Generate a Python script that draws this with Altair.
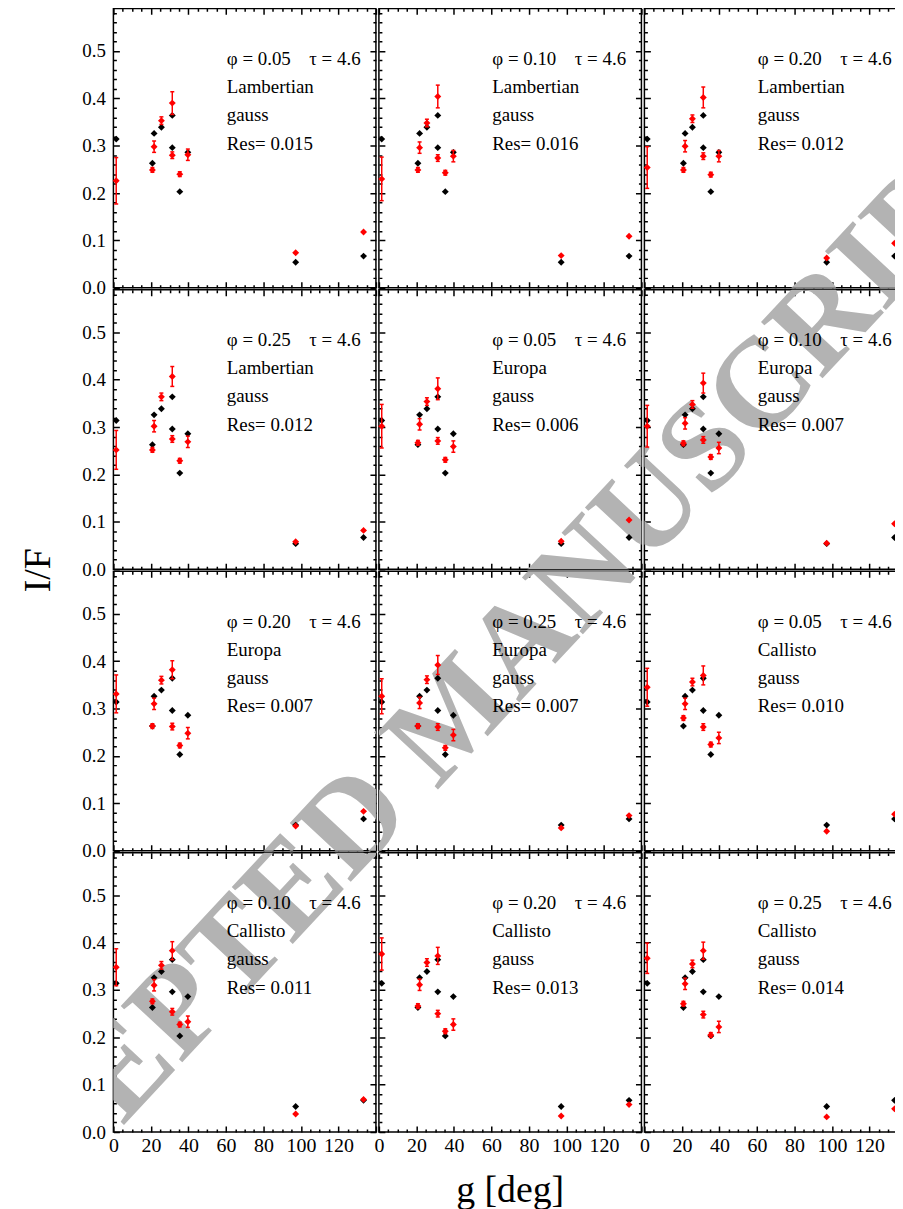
import altair as alt
import pandas as pd

# ---------------- data ----------------
g_obs = [1.5, 20.8, 21.7, 25.6, 31.4, 31.4, 35.4, 39.7, 97.2, 133.4]
if_obs = [0.314, 0.263, 0.326, 0.339, 0.364, 0.296, 0.203, 0.286, 0.054, 0.067]

panel_phi = ["0.05", "0.10", "0.20", "0.25", "0.05", "0.10",
             "0.20", "0.25", "0.05", "0.10", "0.20", "0.25"]
panel_surface = ["Lambertian"] * 4 + ["Europa"] * 4 + ["Callisto"] * 4
panel_model = ["gauss"] * 12
panel_res = ["0.015", "0.016", "0.012", "0.012", "0.006", "0.007",
             "0.007", "0.007", "0.010", "0.011", "0.013", "0.014"]
panel_tau = "4.6"

if_model = [
    [0.226, 0.249, 0.298, 0.353, 0.390, 0.280, 0.240, 0.281, 0.074, 0.118],
    [0.230, 0.249, 0.296, 0.348, 0.404, 0.274, 0.243, 0.278, 0.068, 0.109],
    [0.254, 0.249, 0.299, 0.357, 0.402, 0.278, 0.239, 0.278, 0.063, 0.094],
    [0.252, 0.252, 0.302, 0.364, 0.407, 0.275, 0.229, 0.269, 0.058, 0.082],
    [0.302, 0.267, 0.306, 0.354, 0.381, 0.271, 0.231, 0.259, 0.059, 0.104],
    [0.302, 0.266, 0.308, 0.348, 0.393, 0.273, 0.237, 0.256, 0.055, 0.096],
    [0.331, 0.263, 0.310, 0.360, 0.382, 0.262, 0.222, 0.248, 0.052, 0.083],
    [0.326, 0.263, 0.312, 0.361, 0.392, 0.261, 0.217, 0.244, 0.048, 0.074],
    [0.345, 0.280, 0.310, 0.356, 0.370, 0.261, 0.224, 0.238, 0.041, 0.077],
    [0.348, 0.276, 0.310, 0.352, 0.383, 0.254, 0.227, 0.233, 0.038, 0.069],
    [0.376, 0.266, 0.311, 0.358, 0.372, 0.250, 0.213, 0.227, 0.034, 0.058],
    [0.367, 0.271, 0.313, 0.355, 0.383, 0.248, 0.205, 0.222, 0.032, 0.049],
]
err_first = [0.049, 0.046, 0.044, 0.041, 0.046, 0.044, 0.040, 0.037, 0.040, 0.039, 0.034, 0.032]
err_peak = [0.024, 0.024, 0.022, 0.021, 0.023, 0.021, 0.019, 0.020, 0.020, 0.019, 0.018, 0.018]
err_rest = [0.005, 0.012, 0.008, 0.007, 0.005, 0.012, 0.0, 0.0]  # points 2,3,4,6,7,8,9,10

x_ticks = list(range(0, 141, 5))
y_ticks = [round(0.02 * i, 2) for i in range(30)]

watermark = "ACCEPTED MANUSCRIPT"

# ---------------- table ----------------
rows = []
for p in range(12):
    errs = [err_first[p]] + err_rest[:3] + [err_peak[p]] + err_rest[3:]
    for i in range(10):
        rows.append({
            "panel": p, "row": p // 3, "col": p % 3, "idx": i,
            "g": g_obs[i], "obs": if_obs[i], "mod": if_model[p][i],
            "lo": round(if_model[p][i] - errs[i], 4),
            "hi": round(if_model[p][i] + errs[i], 4),
            "t_phi": "\u03c6 = " + panel_phi[p],
            "t_tau": "\u03c4 = " + panel_tau,
            "t_surf": panel_surface[p],
            "t_model": panel_model[p],
            "t_res": "Res= " + panel_res[p],
            "t_wm": watermark,
        })
df = pd.DataFrame(rows)

# ---------------- styling ----------------
W, H = 264, 281
SERIF = "Liberation Serif"
LW = 1.5
MS = 48

xs = alt.Scale(domain=[0, 140], nice=False, zero=False)
ys = alt.Scale(domain=[0, 0.59], nice=False, zero=False)

x_axis = alt.Axis(
    values=x_ticks, format="d",
    labelExpr="datum.value % 20 == 0 && datum.value < 140 ? datum.label : ''",
    ticks=False, tickSize=0, domain=False, grid=True, gridColor="black", gridOpacity=1,
    gridWidth=LW,
    gridDash={"condition": {"test": "datum.value % 20 == 0", "value": [6, H - 12, 6]},
              "value": [3, H - 6, 3]},
    labelFont=SERIF, labelFontSize=20, labelColor="black", labelPadding=3,
    labelFlush=False, labelOverlap=False, labelBound=False,
)
y_axis = alt.Axis(
    values=y_ticks, format=".1f",
    labelExpr="abs(datum.value * 10 - round(datum.value * 10)) < 0.001 ? datum.label : ''",
    ticks=False, tickSize=0, domain=False, grid=True, gridColor="black", gridOpacity=1,
    gridWidth=LW,
    gridDash={"condition": {"test": "abs(datum.value * 10 - round(datum.value * 10)) < 0.001",
                            "value": [6, W - 12, 6]},
              "value": [3, W - 6, 3]},
    labelFont=SERIF, labelFontSize=19, labelColor="black", labelPadding=6,
    labelOverlap=False, labelBound=False,
)


def X(field):
    return alt.X(field, type="quantitative", scale=xs, axis=x_axis, title=None)


def Y(field):
    return alt.Y(field, type="quantitative", scale=ys, axis=y_axis, title=None)


# grey "ACCEPTED MANUSCRIPT" stamp: one copy per cell, shifted by the cell's
# place in the grid and clipped to the cell, so that together they form one stamp
wm = alt.Chart().transform_filter("datum.idx == 0").transform_calculate(
    wm_x=f"339 - {W} * datum.col", wm_y=f"709 - {H} * datum.row"
).mark_text(
    align="center", baseline="middle", font=SERIF, fontSize=128, fontWeight="bold",
    angle=313, color="#b3b3b3", clip=True
).encode(
    x=alt.X("wm_x:Q", scale=None, axis=None),
    y=alt.Y("wm_y:Q", scale=None, axis=None),
    text=alt.Text("t_wm", type="nominal"),
)

obs_pts = alt.Chart().mark_point(shape="diamond", filled=True, size=MS, color="black",
                                 opacity=1).encode(x=X("g"), y=Y("obs"))
err_rule = alt.Chart().mark_rule(color="red", strokeWidth=LW).encode(
    x=X("g"), y=Y("lo"), y2=alt.Y2("hi"))
cap_lo = alt.Chart().mark_tick(color="red", orient="horizontal", size=4,
                               thickness=LW, opacity=1).encode(x=X("g"), y=Y("lo"))
cap_hi = alt.Chart().mark_tick(color="red", orient="horizontal", size=4,
                               thickness=LW, opacity=1).encode(x=X("g"), y=Y("hi"))
mod_pts = alt.Chart().mark_point(shape="diamond", filled=True, size=MS, color="red",
                                 opacity=1).encode(x=X("g"), y=Y("mod"))


def label(field, dx, dy):
    return alt.Chart().transform_filter("datum.idx == 0").mark_text(
        align="left", baseline="alphabetic", font=SERIF, fontSize=19, color="black"
    ).encode(x=alt.value(dx), y=alt.value(dy), text=alt.Text(field, type="nominal"))


texts = [label("t_phi", 114, 57), label("t_tau", 197, 57), label("t_surf", 114, 85),
         label("t_model", 114, 113), label("t_res", 114, 142)]

cell = alt.layer(wm, obs_pts, err_rule, cap_lo, cap_hi, mod_pts, *texts, data=df).properties(
    width=W, height=H)

chart = cell.facet(
    row=alt.Row("row:O", title="I/F",
                header=alt.Header(labels=False, labelPadding=0, titleFont=SERIF,
                                  titleFontSize=38, titleFontWeight="normal",
                                  titleColor="black", titlePadding=14)),
    column=alt.Column("col:O", title="g [deg]",
                      header=alt.Header(labels=False, labelOrient="bottom", labelPadding=0,
                                        titleOrient="bottom", titleFont=SERIF,
                                        titleFontSize=38, titleFontWeight="normal",
                                        titleColor="black", titlePadding=6)),
    spacing=0,
).properties(
    padding={"left": 12, "top": -8, "right": -13, "bottom": 0},
).configure_view(stroke="black", strokeWidth=LW)

chart.save("out.html", embed_options={"renderer": "svg", "actions": False})
